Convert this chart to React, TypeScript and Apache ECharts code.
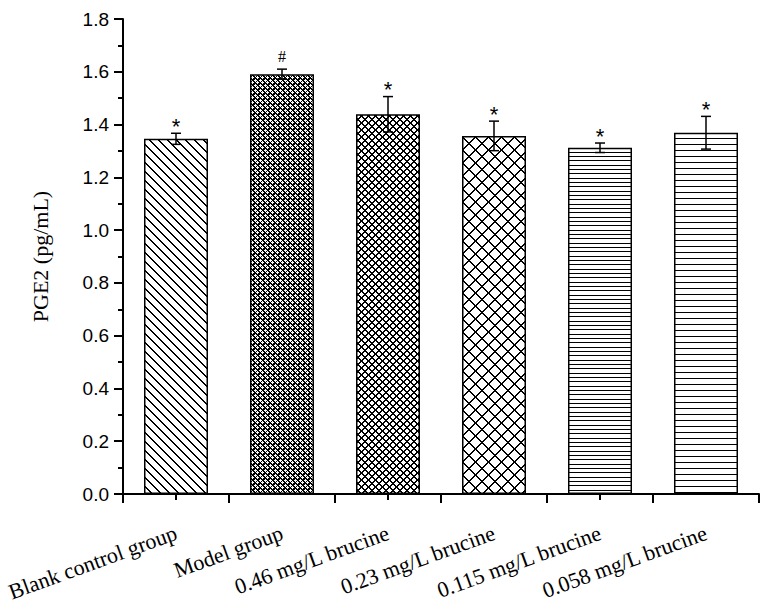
import React, { useEffect, useRef } from "react";
import * as echarts from "echarts";

const categories = [
  "Blank control group",
  "Model group",
  "0.46 mg/L brucine",
  "0.23 mg/L brucine",
  "0.115 mg/L brucine",
  "0.058 mg/L brucine",
];
const means = [1.346, 1.591, 1.439, 1.357, 1.312, 1.369];
const errors = [0.021, 0.019, 0.067, 0.056, 0.018, 0.062];
const marks = ["*", "#", "*", "*", "*", "*"];
const yTicks = { min: 0, max: 1.8, interval: 0.2 };

function makeTile(w: number, h: number, fn: (x: number, y: number) => boolean) {
  const c = document.createElement("canvas");
  c.width = w;
  c.height = h;
  const ctx = c.getContext("2d")!;
  const img = ctx.createImageData(w, h);
  for (let y = 0; y < h; y++) {
    for (let x = 0; x < w; x++) {
      const i = (y * w + x) * 4;
      const v = fn(x, y) ? 0 : 255;
      img.data[i] = v;
      img.data[i + 1] = v;
      img.data[i + 2] = v;
      img.data[i + 3] = 255;
    }
  }
  ctx.putImageData(img, 0, 0);
  return c;
}

const mod = (a: number, m: number) => ((a % m) + m) % m;

function isPlusHole(x: number, y: number, cx: number, cy: number, w: number, h: number) {
  const dx = Math.min(mod(x - cx, w), mod(cx - x, w));
  const dy = Math.min(mod(y - cy, h), mod(cy - y, h));
  return dx + dy <= 1;
}

function makePatterns() {
  const p1 = makeTile(9, 9, (x, y) => mod(x - y, 9) <= 1);
  const p2 = makeTile(5, 5, (x, y) => !(isPlusHole(x, y, 0, 0, 5, 5) || isPlusHole(x, y, 2, 2, 5, 5)));
  const p3 = makeTile(7, 7, (x, y) => mod(x + y, 7) <= 1 || mod(x - y, 7) <= 1);
  const p4 = makeTile(13, 13, (x, y) => mod(x + y, 13) <= 1 || mod(x - y, 13) <= 1);
  const p5 = makeTile(8, 13, (x, y) => y === 0 || y === 4 || y === 9);
  const p6 = makeTile(8, 6, (x, y) => y === 0);
  return [p1, p2, p3, p4, p5, p6].map((c) => ({ image: c, repeat: "repeat" }));
}

export default function App() {
  const ref = useRef<HTMLDivElement>(null);
  useEffect(() => {
    if (!ref.current) return;
    const chart = echarts.init(ref.current, undefined, { renderer: "svg" });
    const patterns = makePatterns();
    const option: any = {
      animation: false,
      backgroundColor: "#fff",
      grid: { left: 123, right: 15, top: 19, bottom: 118 },
      xAxis: [
        {
          type: "category",
          data: categories,
          position: "bottom",
          axisLine: { show: true, onZero: false, lineStyle: { color: "#000", width: 2 } },
          axisTick: { show: true, length: 9, lineStyle: { color: "#000", width: 2 } },
          axisLabel: {
            rotate: 20,
            margin: 38,
            color: "#000",
            fontFamily: "Liberation Serif",
            fontSize: 22,
            interval: 0,
          },
          splitLine: { show: false },
        },
        {
          type: "category",
          data: categories,
          position: "bottom",
          offset: 0,
          axisLine: { show: false },
          axisTick: { show: true, alignWithLabel: true, length: 6, lineStyle: { color: "#000", width: 2 } },
          axisLabel: { show: false },
          splitLine: { show: false },
        },
      ],
      yAxis: {
        type: "value",
        min: yTicks.min,
        max: yTicks.max,
        interval: yTicks.interval,
        name: "PGE2 (pg/mL)",
        nameLocation: "middle",
        nameGap: 72,
        nameTextStyle: { color: "#000", fontFamily: "Liberation Serif", fontSize: 22 },
        axisLine: { show: true, lineStyle: { color: "#000", width: 2 } },
        axisTick: { show: true, length: 9, lineStyle: { color: "#000", width: 2 } },
        minorTick: { show: true, splitNumber: 2, length: 5, lineStyle: { color: "#000", width: 2 } },
        axisLabel: {
          color: "#000",
          fontFamily: "Liberation Sans",
          fontSize: 19,
          margin: 14,
          formatter: (v: number) => v.toFixed(1),
        },
        splitLine: { show: false },
      },
      series: [
        {
          type: "bar",
          barWidth: 64,
          data: means.map((v, i) => ({
            value: v,
            itemStyle: { color: patterns[i], borderColor: "#000", borderWidth: 1.5 },
          })),
          emphasis: { disabled: true },
        },
        {
          type: "custom",
          data: means.map((v, i) => [i, v - errors[i], v + errors[i]]),
          renderItem: (params: any, api: any) => {
            const idx = params.dataIndex;
            const x = api.value(0);
            const pLo = api.coord([x, api.value(1)]);
            const pHi = api.coord([x, api.value(2)]);
            const hw = 5;
            const st = { stroke: "#000", lineWidth: 1.5 };
            const isHash = marks[idx] === "#";
            return {
              type: "group",
              children: [
                { type: "line", shape: { x1: pLo[0], y1: pLo[1], x2: pHi[0], y2: pHi[1] }, style: st },
                { type: "line", shape: { x1: pLo[0] - hw, y1: pLo[1], x2: pLo[0] + hw, y2: pLo[1] }, style: st },
                { type: "line", shape: { x1: pHi[0] - hw, y1: pHi[1], x2: pHi[0] + hw, y2: pHi[1] }, style: st },
                {
                  type: "text",
                  style: {
                    text: marks[idx],
                    x: pHi[0],
                    y: isHash ? pHi[1] - 13 : pHi[1] - 7,
                    align: "center",
                    verticalAlign: "middle",
                    fill: "#000",
                    font: isHash ? "16px 'Liberation Serif'" : "22px 'Liberation Sans'",
                  },
                },
              ],
            };
          },
          z: 5,
        },
      ],
    };
    chart.setOption(option);
    return () => chart.dispose();
  }, []);
  return (
    <div
      ref={ref}
      style={{ position: "absolute", left: 0, top: 0, width: 774, height: 612 }}
    />
  );
}
